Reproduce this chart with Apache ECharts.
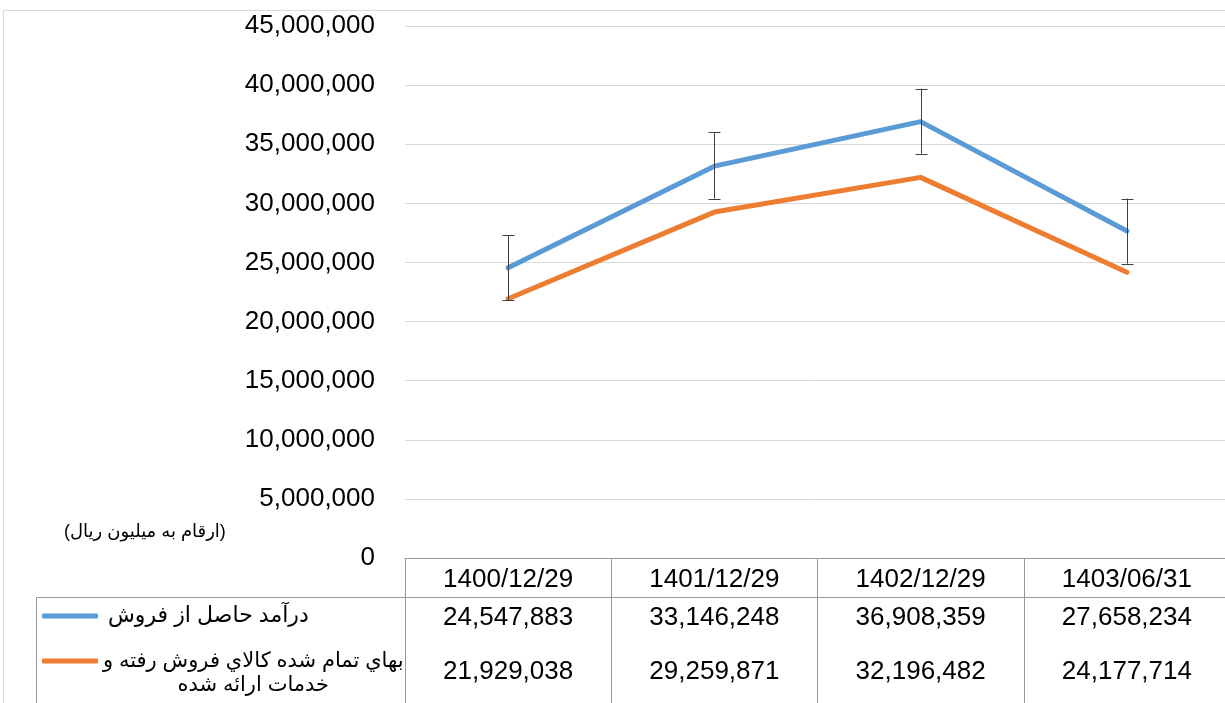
<!DOCTYPE html>
<html>
<head>
<meta charset="utf-8">
<script src="https://cdn.jsdelivr.net/npm/echarts@6/dist/echarts.min.js"></script>
<style>
  html, body { margin: 0; padding: 0; background: #fff; }
  #main { width: 1225px; height: 703px; }
</style>
</head>
<body>
<div id="main"></div>
<script>
var dates = ['1400/12/29', '1401/12/29', '1402/12/29', '1403/06/31'];
var revenue = [24547883, 33146248, 36908359, 27658234];
var cost = [21929038, 29259871, 32196482, 24177714];
// error bar ends on the revenue line
var errHigh = [27300000, 36000000, 39700000, 30400000];
var errLow = [21800000, 30400000, 34200000, 24900000];
var nameRevenue = 'درآمد حاصل از فروش';
var nameCost = 'بهاي تمام شده كالاي فروش رفته و\nخدمات ارائه شده';
var unitNote = '(ارقام به میلیون ریال)';

var font = 'Liberation Sans, Arial, DejaVu Sans, sans-serif';
var fmt = function (v) { return Number(v).toLocaleString('en-US'); };

var errData = [];
for (var i = 0; i < dates.length; i++) {
  errData.push([i, errLow[i], errHigh[i]]);
}

var myChart = echarts.init(document.getElementById('main'));
var option = {
  backgroundColor: '#fff',
  animation: false,
  textStyle: { fontFamily: font },
  title: {
    text: unitNote,
    left: 59,
    top: 518,
    textStyle: { fontSize: 18, fontWeight: 'normal', color: '#000', fontFamily: font }
  },
  legend: [{
    data: [nameRevenue],
    orient: 'vertical',
    left: 42,
    top: 603,
    padding: 0,
    icon: 'roundRect',
    itemWidth: 56,
    itemHeight: 5,
    itemGap: 0,
    selectedMode: false,
    textStyle: { fontSize: 22, lineHeight: 26, color: '#000', fontFamily: font, padding: [0, 0, 0, 5] }
  }, {
    data: [nameCost],
    orient: 'vertical',
    left: 42,
    top: 625,
    padding: 0,
    icon: 'roundRect',
    itemWidth: 56,
    itemHeight: 5,
    itemGap: 0,
    selectedMode: false,
    formatter: function (name) {
      return name.split('\n').map(function (s) { return '{c|' + s + '}'; }).join('\n');
    },
    textStyle: {
      fontSize: 21, lineHeight: 24, color: '#000', fontFamily: font,
      padding: [24, 0, 0, 0],
      rich: { c: { align: 'center', fontSize: 21, lineHeight: 24, color: '#000', fontFamily: font } }
    }
  }],
  graphic: [{
    type: 'rect',
    shape: { x: 3.5, y: 10.5, width: 1300, height: 800 },
    style: { fill: 'none', stroke: '#d9d9d9', lineWidth: 1 },
    silent: true
  }, {
    type: 'polyline',
    shape: { points: [[36.5, 703], [36.5, 597.5], [405, 597.5]] },
    style: { fill: 'none', stroke: '#999', lineWidth: 1 },
    silent: true
  }],
  grid: {
    left: 405,
    top: 26,
    width: 825,
    height: 532,
    outerBoundsMode: 'none'
  },
  xAxis: [{
    type: 'category',
    data: dates,
    position: 'bottom',
    axisLine: { show: true, lineStyle: { color: '#999', width: 1 } },
    axisTick: { show: true, length: 145, lineStyle: { color: '#999', width: 1 } },
    axisLabel: { margin: 9, fontSize: 26, color: '#000', fontFamily: font },
    splitLine: { show: false }
  }, {
    type: 'category',
    data: revenue.map(fmt),
    position: 'bottom',
    offset: 39,
    axisLine: { show: true, lineStyle: { color: '#999', width: 1 } },
    axisTick: { show: false },
    axisLabel: { margin: 8, fontSize: 26, color: '#000', fontFamily: font },
    splitLine: { show: false }
  }, {
    type: 'category',
    data: cost.map(fmt),
    position: 'bottom',
    offset: 91,
    axisLine: { show: false },
    axisTick: { show: false },
    axisLabel: { margin: 10, fontSize: 26, color: '#000', fontFamily: font },
    splitLine: { show: false }
  }],
  yAxis: {
    type: 'value',
    min: 0,
    max: 45000000,
    interval: 5000000,
    axisLine: { show: false },
    axisTick: { show: false },
    axisLabel: { margin: 30, fontSize: 26, color: '#000', fontFamily: font, formatter: fmt },
    splitLine: { lineStyle: { color: '#d9d9d9', width: 1 } }
  },
  series: [{
    name: nameRevenue,
    type: 'line',
    data: revenue,
    symbol: 'none',
    lineStyle: { color: '#5b9bd5', width: 5, cap: 'round', join: 'round' },
    itemStyle: { color: '#5b9bd5' },
    z: 3
  }, {
    name: nameCost,
    type: 'line',
    data: cost,
    symbol: 'none',
    lineStyle: { color: '#ed7d31', width: 5, cap: 'round', join: 'round' },
    itemStyle: { color: '#ed7d31' },
    z: 3
  }, {
    type: 'custom',
    data: errData,
    z: 4,
    renderItem: function (params, api) {
      var x = api.value(0);
      var lo = api.coord([x, api.value(1)]);
      var hi = api.coord([x, api.value(2)]);
      var cx = Math.round(lo[0]) + 0.5;
      var hw = 6;
      var st = { stroke: '#404040', lineWidth: 1 };
      return {
        type: 'group',
        children: [
          { type: 'line', shape: { x1: cx, y1: hi[1], x2: cx, y2: lo[1] }, style: st },
          { type: 'line', shape: { x1: cx - hw, y1: Math.round(hi[1]) + 0.5, x2: cx + hw, y2: Math.round(hi[1]) + 0.5 }, style: st },
          { type: 'line', shape: { x1: cx - hw, y1: Math.round(lo[1]) + 0.5, x2: cx + hw, y2: Math.round(lo[1]) + 0.5 }, style: st }
        ]
      };
    }
  }]
};
myChart.setOption(option);
</script>
</body>
</html>
